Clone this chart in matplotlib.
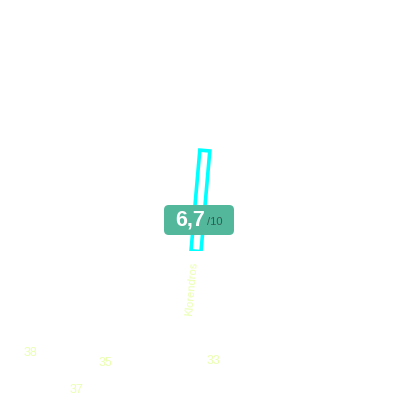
import matplotlib
matplotlib.use("Agg")
import matplotlib.pyplot as plt
from matplotlib.transforms import Affine2D
from matplotlib.patches import FancyBboxPatch

categories = ["Klorendros"]
scores = [6.7]
score_label = "6,7"
score_max = "/10"
other_values = [38, 35, 37, 33]
other_pos = [(0.075, 0.1175), (0.2625, 0.0925), (0.19, 0.026), (0.5325, 0.0975)]

pale = "#eaffb0"
tilt = -5

fig = plt.figure(figsize=(4, 4), dpi=100)
fig.patch.set_facecolor("white")

ax = fig.add_axes([0.44, 0.372, 0.1, 0.377])
ax.set_xlim(-2, 2)
ax.set_ylim(0, 10)
ax.axis("off")

bars = ax.bar([0], scores, width=1.0, facecolor="none", edgecolor="#00ffff", linewidth=2.6)

fig.canvas.draw()
bx, by = ax.transData.transform((0, 0))
rot = Affine2D().rotate_deg_around(bx, by, tilt)
for b in bars:
    b.set_transform(ax.transData + rot)

ax.annotate(categories[0], xy=(0, 0), xytext=(-3.5, -27), textcoords="offset points",
            rotation=90 + tilt, ha="center", va="center", rotation_mode="anchor",
            fontsize=8, color=pale, family="Liberation Sans", annotation_clip=False)

# score badge
badge = FancyBboxPatch((0.41, 0.4125), 0.175, 0.075, boxstyle="round,pad=0,rounding_size=0.012",
                       transform=fig.transFigure, facecolor="#52b79b", edgecolor="none")
fig.patches.append(badge)
fig.text(0.476, 0.451, score_label, ha="center", va="center", fontsize=15.5,
         fontweight="bold", color="white", family="Liberation Sans")
fig.text(0.538, 0.445, score_max, ha="center", va="center", fontsize=8,
         color="#2f5f52", family="Liberation Sans")

for v, (x, y) in zip(other_values, other_pos):
    fig.text(x, y, str(v), ha="center", va="center", fontsize=9,
             color=pale, family="Liberation Sans")

fig.savefig("out.png", dpi=100)
